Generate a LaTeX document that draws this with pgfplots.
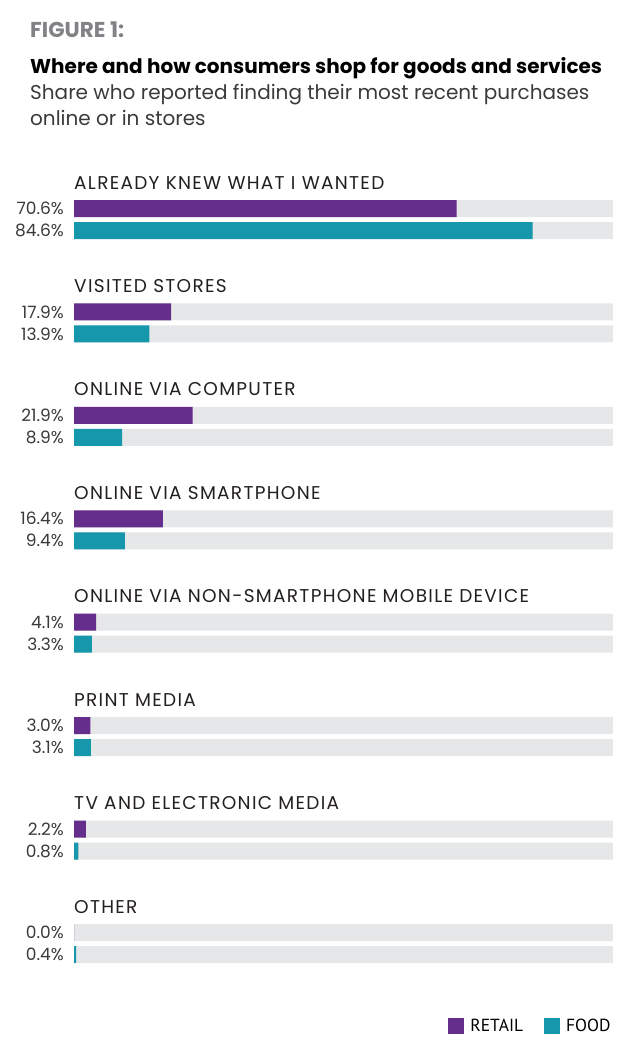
\documentclass[border=0pt]{standalone}
\usepackage{fontspec}
\setmainfont{Poppins}
\newfontfamily\catfont[LetterSpace=7]{Poppins}
\newfontfamily\legfont{PT Sans}
\usepackage{pgfplots}
\pgfplotsset{compat=1.18}
\definecolor{retail}{HTML}{652D8C}
\definecolor{food}{HTML}{1697AC}
\definecolor{bggray}{HTML}{E6E7E8}
\definecolor{figgray}{HTML}{808285}
\definecolor{txt}{HTML}{231F20}
\definecolor{sub}{HTML}{3A3A3C}
\begin{document}
\begin{tikzpicture}[x=1bp,y=1bp]
\path[use as bounding box] (0,0) rectangle (629,-1054);
\begin{axis}[
  at={(74bp,0bp)}, anchor=north west,
  scale only axis,
  x=5.42bp, y=1bp, y dir=reverse,
  xmin=0, xmax=100, ymin=0, ymax=1054,
  axis line style={draw=none},
  xtick=\empty, ytick=\empty,
  clip=false,
  legend style={draw=none, fill=none, at={(axis cs:99.4,1026)}, anchor=east,
    legend columns=-1, font=\legfont\fontsize{17.5bp}{20bp}\selectfont,
    /tikz/every odd column/.append style={column sep=4bp},
    /tikz/every even column/.append style={column sep=19bp},
    inner sep=0pt},
]
\addplot[xbar, fill=bggray, draw=none, bar width=17bp, bar shift=0pt, forget plot] coordinates {
(99.4,208.5) (99.4,230.5) (99.4,311.93) (99.4,333.93) (99.4,415.36) (99.4,437.36)
(99.4,518.79) (99.4,540.79) (99.4,622.22) (99.4,644.22) (99.4,725.65) (99.4,747.65)
(99.4,829.08) (99.4,851.08) (99.4,932.5) (99.4,954.5)};
\addplot[xbar, fill=retail, draw=none, bar width=17bp, bar shift=0pt,
  legend image code/.code={\fill[retail] (0bp,-8bp) rectangle (16bp,8bp);}] coordinates {
(70.6,208.5) (17.9,311.93) (21.9,415.36) (16.4,518.79) (4.1,622.22) (3.0,725.65) (2.2,829.08) (0.0,932.5)};
\addplot[xbar, fill=food, draw=none, bar width=17bp, bar shift=0pt,
  legend image code/.code={\fill[food] (0bp,-8bp) rectangle (16bp,8bp);}] coordinates {
(84.6,230.5) (13.9,333.93) (8.9,437.36) (9.4,540.79) (3.3,644.22) (3.1,747.65) (0.8,851.08) (0.4,954.5)};
\legend{RETAIL, FOOD}
% category labels
\begin{scope}[every node/.style={anchor=base west, inner sep=0pt, text=txt, font=\catfont\fontsize{18.5bp}{21bp}\selectfont}]
\node at (axis cs:0,189) {ALREADY KNEW WHAT I WANTED};
\node at (axis cs:0,292.4) {VISITED STORES};
\node at (axis cs:0,395.9) {ONLINE VIA COMPUTER};
\node at (axis cs:0,499.3) {ONLINE VIA SMARTPHONE};
\node at (axis cs:0,602.7) {ONLINE VIA NON-SMARTPHONE MOBILE DEVICE};
\node at (axis cs:0,706.1) {PRINT MEDIA};
\node at (axis cs:0,809.6) {TV AND ELECTRONIC MEDIA};
\node at (axis cs:0,913) {OTHER};
\end{scope}
% value labels
\begin{scope}[every node/.style={anchor=east, inner sep=0pt, text=sub, font=\fontsize{17bp}{20bp}\selectfont}]
\node at (axis cs:-1.85,208.5) {70.6\%};
\node at (axis cs:-1.85,230.5) {84.6\%};
\node at (axis cs:-1.85,311.93) {17.9\%};
\node at (axis cs:-1.85,333.93) {13.9\%};
\node at (axis cs:-1.85,415.36) {21.9\%};
\node at (axis cs:-1.85,437.36) {8.9\%};
\node at (axis cs:-1.85,518.79) {16.4\%};
\node at (axis cs:-1.85,540.79) {9.4\%};
\node at (axis cs:-1.85,622.22) {4.1\%};
\node at (axis cs:-1.85,644.22) {3.3\%};
\node at (axis cs:-1.85,725.65) {3.0\%};
\node at (axis cs:-1.85,747.65) {3.1\%};
\node at (axis cs:-1.85,829.08) {2.2\%};
\node at (axis cs:-1.85,851.08) {0.8\%};
\node at (axis cs:-1.85,932.5) {0.0\%};
\node at (axis cs:-1.85,954.5) {0.4\%};
\end{scope}
\end{axis}
\node[anchor=base west, inner sep=0pt, text=figgray, font=\bfseries\fontsize{21.5bp}{24bp}\selectfont] at (30,-37) {FIGURE 1:};
\node[anchor=base west, inner sep=0pt, text=black, font=\bfseries\fontsize{20bp}{23bp}\selectfont] at (30,-73) {Where and how consumers shop for goods and services};
\node[anchor=base west, inner sep=0pt, text=sub, font=\fontsize{20bp}{23bp}\selectfont] at (30,-99) {Share who reported finding their most recent purchases};
\node[anchor=base west, inner sep=0pt, text=sub, font=\fontsize{20bp}{23bp}\selectfont] at (30,-125) {online or in stores};
\end{tikzpicture}
\end{document}
